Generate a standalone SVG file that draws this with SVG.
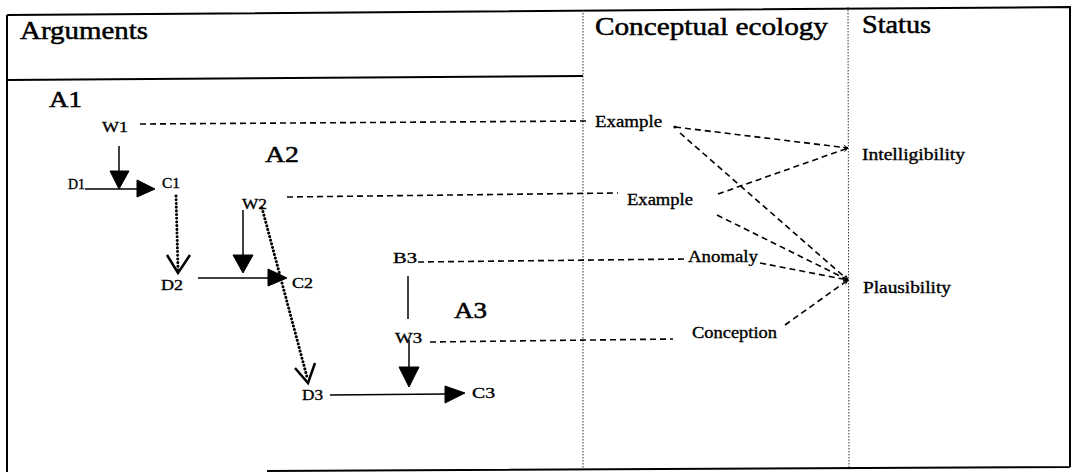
<svg xmlns="http://www.w3.org/2000/svg" width="1071" height="472" viewBox="0 0 1071 472">
<style>
  .hdr { font-family: "Liberation Serif", serif; font-size: 25px; fill: #000; stroke: #000; stroke-width: 0.5; }
  .big { font-family: "Liberation Serif", serif; font-size: 23px; fill: #000; stroke: #000; stroke-width: 0.5; }
  .lbl { font-family: "Liberation Serif", serif; font-size: 15px; fill: #000; stroke: #000; stroke-width: 0.35; }
  .eco { font-family: "Liberation Serif", serif; font-size: 16px; fill: #000; stroke: #000; stroke-width: 0.35; }
  .frame { fill: none; stroke: #000; stroke-width: 2; }
  .col { fill: none; stroke: #333; stroke-width: 1; stroke-dasharray: 1.5 1.5; }
  .dash { fill: none; stroke: #000; stroke-width: 1.6; stroke-dasharray: 6 4; }
  .solid { fill: none; stroke: #000; stroke-width: 1.5; }
  .dot { fill: none; stroke: #000; stroke-width: 3; stroke-dasharray: 0.1 3.6; stroke-linecap: round; }
  .head { fill: #000; stroke: #000; stroke-width: 1; }
  .open { fill: none; stroke: #000; stroke-width: 2.5; stroke-linejoin: miter; }
</style>
<defs>
  <marker id="tip" viewBox="0 0 8 8" refX="7" refY="4" markerWidth="6" markerHeight="6" orient="auto" markerUnits="userSpaceOnUse">
    <path d="M1,1 L7,4 L1,7" fill="none" stroke="#000" stroke-width="1.2"/>
  </marker>
</defs>
<rect x="0" y="0" width="1071" height="472" fill="#fff"/>

<g id="frame">
  <path class="frame" d="M7,15 L1070,7 L1070,467 M7,15 L7,472 M267,471 L1070,467"/>
  <path class="frame" d="M7,80 L583,76"/>
  <path class="col" d="M583,10 L583,469"/>
  <path class="col" d="M848,7 L849,467"/>
</g>

<g id="headers">
  <text id="h-arguments" class="hdr" x="20" y="39" textLength="128" lengthAdjust="spacingAndGlyphs">Arguments</text>
  <text id="h-ecology" class="hdr" x="595" y="35" textLength="233" lengthAdjust="spacingAndGlyphs">Conceptual ecology</text>
  <text id="h-status" class="hdr" x="862" y="33" textLength="69" lengthAdjust="spacingAndGlyphs">Status</text>
</g>

<g id="A1"><text class="big" x="49" y="107" textLength="33" lengthAdjust="spacingAndGlyphs">A1</text></g>
<g id="A2"><text class="big" x="265" y="162" textLength="34" lengthAdjust="spacingAndGlyphs">A2</text></g>
<g id="A3"><text class="big" x="454" y="318" textLength="33" lengthAdjust="spacingAndGlyphs">A3</text></g>

<g id="W1"><text class="lbl" x="102" y="132" textLength="26" lengthAdjust="spacingAndGlyphs">W1</text></g>
<g id="D1"><text class="lbl" x="68" y="189" textLength="17" lengthAdjust="spacingAndGlyphs">D1</text></g>
<g id="C1"><text class="lbl" x="162" y="188" textLength="18" lengthAdjust="spacingAndGlyphs">C1</text></g>
<g id="W2"><text class="lbl" x="242" y="209" textLength="25" lengthAdjust="spacingAndGlyphs">W2</text></g>
<g id="D2"><text class="lbl" x="161" y="290" textLength="22" lengthAdjust="spacingAndGlyphs">D2</text></g>
<g id="C2"><text class="lbl" x="292" y="288" textLength="21" lengthAdjust="spacingAndGlyphs">C2</text></g>
<g id="B3"><text class="lbl" x="393" y="263" textLength="24" lengthAdjust="spacingAndGlyphs">B3</text></g>
<g id="W3"><text class="lbl" x="395" y="343" textLength="27" lengthAdjust="spacingAndGlyphs">W3</text></g>
<g id="D3"><text class="lbl" x="302" y="400" textLength="21" lengthAdjust="spacingAndGlyphs">D3</text></g>
<g id="C3"><text class="lbl" x="472" y="398" textLength="23" lengthAdjust="spacingAndGlyphs">C3</text></g>

<g id="Example1"><text class="eco" x="595" y="127" textLength="67" lengthAdjust="spacingAndGlyphs">Example</text></g>
<g id="Example2"><text class="eco" x="627" y="205" textLength="66" lengthAdjust="spacingAndGlyphs">Example</text></g>
<g id="Anomaly"><text class="eco" x="688" y="262" textLength="70" lengthAdjust="spacingAndGlyphs">Anomaly</text></g>
<g id="Conception"><text class="eco" x="692" y="338" textLength="85" lengthAdjust="spacingAndGlyphs">Conception</text></g>
<g id="Intelligibility"><text class="eco" x="862" y="160" textLength="103" lengthAdjust="spacingAndGlyphs">Intelligibility</text></g>
<g id="Plausibility"><text class="eco" x="863" y="293" textLength="88" lengthAdjust="spacingAndGlyphs">Plausibility</text></g>

<g id="connectors">
  <path class="dash" d="M140,124 L590,121"/>
  <path class="dash" d="M287,197 L618,193"/>
  <path class="dash" d="M418,262 L685,259"/>
  <path class="dash" d="M430,342 L673,339"/>
  <circle cx="675" cy="127" r="1.6" fill="#000"/>
  <path class="dash" d="M675,127 L848,148" marker-end="url(#tip)"/>
  <path class="dash" d="M680,133 L848,280" marker-end="url(#tip)"/>
  <path class="dash" d="M718,194 L848,148" marker-end="url(#tip)"/>
  <path class="dash" d="M717,215 L848,280" marker-end="url(#tip)"/>
  <path class="dash" d="M760,263 L848,280" marker-end="url(#tip)"/>
  <path class="dash" d="M785,325 L848,280" marker-end="url(#tip)"/>

  <path class="solid" d="M119,146 L119,172"/>
  <polygon class="head" points="110,171 129,171 119,189"/>
  <path class="solid" d="M85,189 L138,189"/>
  <polygon class="head" points="137,180 137,197 155,189"/>
  <path class="dot" d="M176,196 L178,270"/>
  <path class="open" d="M167,255 L178,273 L190,255"/>

  <path class="solid" d="M243,210 L243,256"/>
  <polygon class="head" points="233,255 253,255 243,273"/>
  <path class="solid" d="M198,278 L269,278"/>
  <polygon class="head" points="268,269 268,286 287,278"/>
  <path class="dot" d="M262,208 L307,377"/>
  <path class="open" d="M295,368 L308,383 L315,363"/>

  <path class="solid" d="M408,276 L408,319"/>
  <path class="solid" d="M409,340 L409,368"/>
  <polygon class="head" points="399,367 419,367 409,387"/>
  <path class="solid" d="M330,395 L446,394"/>
  <polygon class="head" points="445,386 445,403 465,393"/>
</g>
</svg>
